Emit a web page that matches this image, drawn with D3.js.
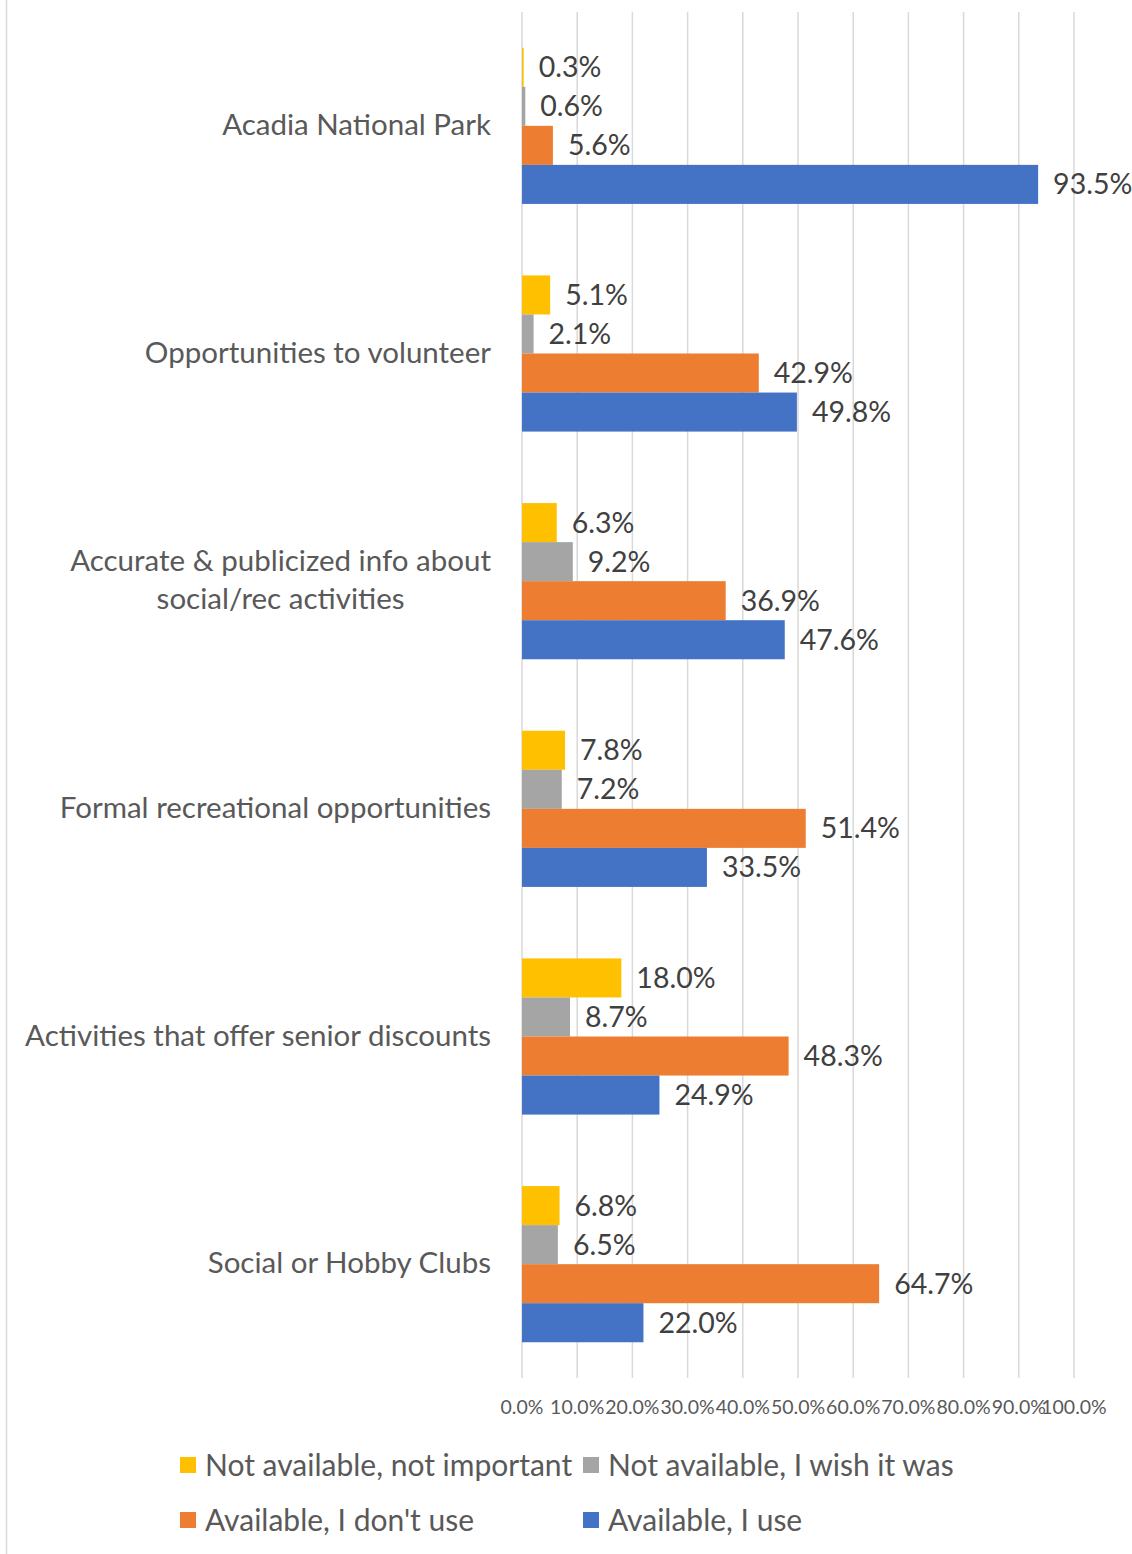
<!DOCTYPE html>
<html>
<head>
<meta charset="utf-8">
<script src="https://cdn.jsdelivr.net/npm/d3@7"></script>
<style>
  html, body { margin: 0; padding: 0; background: #fff; }
  svg { display: block; }
  text { font-family: Lato, "Open Sans", sans-serif; }
</style>
</head>
<body>
<div id="chart"></div>
<script>
const categories = [
  ["Acadia National Park"],
  ["Opportunities to volunteer"],
  ["Accurate & publicized info about", "social/rec activities"],
  ["Formal recreational opportunities"],
  ["Activities that offer senior discounts"],
  ["Social or Hobby Clubs"]
];
const seriesNames = [
  "Not available, not important",
  "Not available, I wish it was",
  "Available, I don't use",
  "Available, I use"
];
const seriesColors = ["#FFC000", "#A5A5A5", "#ED7D31", "#4472C4"];
const notAvailNotImportant = [0.3, 5.1, 6.3, 7.8, 18.0, 6.8];
const notAvailWish = [0.6, 2.1, 9.2, 7.2, 8.7, 6.5];
const availDontUse = [5.6, 42.9, 36.9, 51.4, 48.3, 64.7];
const availUse = [93.5, 49.8, 47.6, 33.5, 24.9, 22.0];
const seriesValues = [notAvailNotImportant, notAvailWish, availDontUse, availUse];
const xTicks = [0, 10, 20, 30, 40, 50, 60, 70, 80, 90, 100];

const W = 1132, H = 1554;
const svg = d3.select("#chart").append("svg").attr("width", W).attr("height", H);
svg.append("rect").attr("width", W).attr("height", H).attr("fill", "#fff");

// chart border (left edge visible)
svg.append("line").attr("x1", 6.5).attr("x2", 6.5).attr("y1", 0).attr("y2", H)
  .attr("stroke", "#d9d9d9").attr("stroke-width", 1.5);

const plotTop = 12, plotBottom = 1378;
const x = d3.scaleLinear().domain([0, 100]).range([522, 1074]);
const catKeys = categories.map((c, i) => i);
const y0 = d3.scaleBand().domain(catKeys).range([plotTop, plotBottom])
  .paddingInner(0.314).paddingOuter(0.157);
const y1 = d3.scaleBand().domain(d3.range(seriesNames.length)).range([0, y0.bandwidth()]);

// gridlines
svg.append("g").selectAll("line").data(xTicks).join("line")
  .attr("x1", d => x(d)).attr("x2", d => x(d))
  .attr("y1", plotTop).attr("y2", plotBottom)
  .attr("stroke", "#d9d9d9").attr("stroke-width", 1.5);

// tick labels
svg.append("g").selectAll("text").data(xTicks).join("text")
  .attr("x", d => x(d)).attr("y", 1406)
  .attr("text-anchor", "middle").attr("dominant-baseline", "central")
  .attr("font-size", 19.5).attr("fill", "#595959")
  .text(d => d3.format(".1f")(d) + "%");

// bars
const flat = [];
seriesValues.forEach((vals, s) => vals.forEach((v, c) => flat.push({ s, c, v })));
const g = svg.append("g");
g.selectAll("rect").data(flat).join("rect")
  .attr("x", x(0))
  .attr("y", d => y0(d.c) + y1(d.s))
  .attr("width", d => x(d.v) - x(0))
  .attr("height", y1.bandwidth())
  .attr("fill", d => seriesColors[d.s]);

// data labels
g.selectAll("text").data(flat).join("text")
  .attr("x", d => x(d.v) + 15)
  .attr("y", d => y0(d.c) + y1(d.s) + y1.bandwidth() / 2 - 1)
  .attr("dominant-baseline", "central")
  .attr("font-size", 28.5).attr("fill", "#404040")
  .text(d => d3.format(".1f")(d.v) + "%");

// category labels
const catG = svg.append("g");
categories.forEach((lines, i) => {
  const cy = y0(i) + y0.bandwidth() / 2 - 3;
  const lh = 38;
  const t = catG.append("text")
    .attr("font-size", 29.5).attr("fill", "#595959")
    .attr("text-anchor", "middle").attr("dominant-baseline", "central");
  const spans = lines.map((ln, k) => t.append("tspan")
    .attr("y", cy + (k - (lines.length - 1) / 2) * lh).text(ln));
  let maxW = 0;
  spans.forEach(sp => { maxW = Math.max(maxW, sp.node().getComputedTextLength()); });
  spans.forEach(sp => sp.attr("x", 491 - maxW / 2));
});

// legend
const legendPos = [[180, 1465], [583, 1465], [180, 1520], [583, 1520]];
const lg = svg.append("g");
seriesNames.forEach((name, i) => {
  const [lx, ly] = legendPos[i];
  lg.append("rect").attr("x", lx).attr("y", ly - 8).attr("width", 16).attr("height", 16)
    .attr("fill", seriesColors[i]);
  lg.append("text").attr("x", lx + 25).attr("y", ly - 1)
    .attr("dominant-baseline", "central")
    .attr("font-size", 30).attr("fill", "#595959").text(name);
});
</script>
</body>
</html>
